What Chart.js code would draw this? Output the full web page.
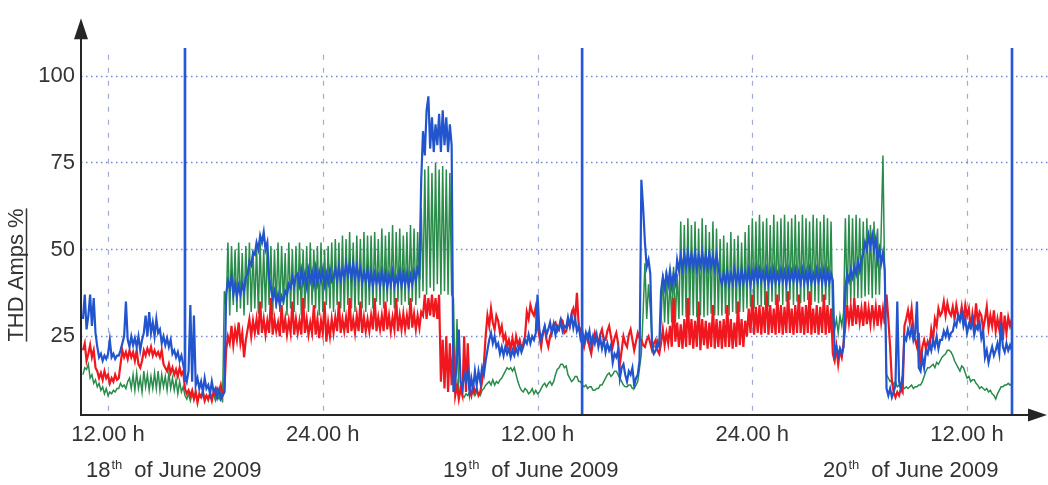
<!DOCTYPE html>
<html>
<head>
<meta charset="utf-8">
<title>THD Amps %</title>
<script src="https://cdn.jsdelivr.net/npm/chart.js@4.4.1/dist/chart.umd.min.js"></script>
<style>
  html, body { margin: 0; padding: 0; background: #fff; }
  #wrap { width: 1048px; height: 485px; }
</style>
</head>
<body>
<div id="wrap"><canvas id="thd-chart" width="1048" height="485"></canvas></div>
<script>
// one reading every 0.1 h, first one at 10.6 h on the 18th
var t0 = 10.6;
var dt = 0.1;

var blue = [
  30, 37, 27, 31, 37, 28, 36, 26, 22, 19, 20, 18, 19.5, 18.5, 20, 24, 19, 20, 18.5, 19.5,
  19.5, 21, 23, 25, 35, 24, 22, 25, 22.5, 24.5, 22, 25, 21, 24, 26, 31, 25, 32, 26, 29,
  25, 30, 26, 27, 23, 25, 22.5, 24.5, 22, 24, 20, 21, 19, 20.5, 18, 19.5, 17, 14, 12, 15,
  34, 12, 31, 11, 13, 10, 12, 9, 13, 10, 11, 8.5, 12, 9, 10, 7.5, 9.5, 7, 8, 9,
  37, 41, 39, 42, 37, 40, 36.5, 39.5, 37, 40, 38, 42, 43, 46.5, 45.5, 49, 48.5, 52, 50, 54,
  52, 55, 50, 52, 42, 39, 36, 38, 34.5, 37, 34, 36.5, 35, 38, 37, 40, 39, 42, 39.5, 42.5,
  43, 40, 44, 40.5, 43, 39.5, 44, 41, 43.5, 40, 44.5, 40.5, 43.5, 41, 44, 40, 43, 40.5, 44, 41,
  42, 44.5, 41, 45, 41.5, 44, 42, 46, 42.5, 45.5, 42, 46, 41.5, 45, 42, 44.5, 40.5, 43.5, 41, 44,
  40, 43.5, 39.5, 43, 40.5, 42.5, 39.5, 43.5, 40, 43, 39, 42.5, 40, 43.5, 39.5, 42, 40, 43.5, 39.5, 43,
  40, 43, 39.5, 42.5, 40, 43.5, 41, 44.5, 43, 70, 84, 77, 90, 94, 79, 88, 78, 86, 80, 89,
  78, 90, 80, 88, 78, 86, 80, 9, 12, 18, 27, 12, 10, 14, 12, 15, 9, 13, 10, 15,
  11, 15, 12, 16, 14, 18, 21, 24, 26, 23, 25, 22, 23, 20, 22, 19.5, 22, 20, 21.5, 19,
  21, 19.5, 21.5, 20, 22.5, 20.5, 22, 24, 23, 25.5, 23, 25, 24, 26, 37, 27, 24, 26, 28, 25.5,
  27, 29, 26, 28.5, 25.5, 28, 27, 29.5, 26.5, 28, 27.5, 30.5, 28, 31, 27.5, 30, 26.5, 28, 24.5, 26.5,
  23.5, 26, 24, 26.5, 22.5, 25, 23, 25.5, 22, 24.5, 21.5, 24, 20.5, 23, 21, 22.5, 17.5, 20, 19, 21,
  13, 16, 17, 14, 12, 15, 14, 16, 11, 13, 14, 18, 70, 62, 52, 45, 47, 43, 22, 20,
  21, 23, 22, 38, 42, 39, 43, 40, 44, 39.5, 43, 40.5, 47, 44, 48, 44.5, 48.5, 45, 49, 45,
  48.5, 45, 49, 44.5, 48, 45.5, 49, 44.5, 48.5, 45, 49, 45, 48, 44.5, 48.5, 45, 42, 40, 43, 40.5,
  43.5, 40, 43, 40.5, 44, 40.5, 43.5, 40, 44, 40.5, 43.5, 40.5, 44, 40, 43.5, 41, 44.5, 40.5, 44, 41,
  43.5, 40.5, 44, 40.5, 43.5, 40, 44, 40.5, 43, 40.5, 44, 41, 43.5, 40, 44, 40.5, 43.5, 41, 44, 40.5,
  43.5, 40.5, 44, 40.5, 43.5, 40, 44, 40.5, 43, 40.5, 44, 41, 43.5, 40.5, 44, 40, 43.5, 40.5, 43, 41,
  20, 22, 19.5, 21.5, 20, 22, 39, 43, 41, 44, 42, 45, 43, 46.5, 44, 47, 49, 52, 50, 54,
  51, 54, 50, 53, 47, 50, 46, 49, 44, 10, 8, 10, 7.5, 9, 11, 35, 12, 10, 14, 25,
  24, 27, 25, 27.5, 24, 26, 35, 16, 15, 19, 16, 21, 20, 23, 21, 24, 22, 25, 21.5, 24,
  24, 26.5, 25, 27, 24.5, 26, 26.5, 29, 28, 31, 29.5, 32, 28, 30, 26, 28.5, 27.5, 30, 25.5, 28,
  27, 29, 24.5, 26.5, 19, 21, 17.5, 20, 22, 19.5, 21, 23, 20, 29, 22, 20.5, 23, 21, 22.5, 21
];

var red = [
  21, 23, 18, 20, 22.5, 19, 21, 16, 15, 13, 14.5, 12.5, 15, 13, 14, 11.5, 13, 12, 14, 12.5,
  13, 17, 21, 19, 20.5, 18.5, 21, 19, 20.5, 18, 21, 17, 16, 18, 21, 19.5, 21.5, 20, 22, 19.5,
  21, 19.5, 20.5, 19, 21, 17, 16, 15, 17, 14.5, 16, 14, 15.5, 13.5, 16, 14, 15, 10, 8.5, 9.5,
  8, 9.5, 7, 9, 6, 8.5, 7.5, 9, 6.5, 8, 7, 8.5, 6.5, 9, 8, 10, 9, 11, 8, 9,
  21, 25, 23, 28, 22.5, 27, 24, 29, 23, 26, 19, 24, 27, 30, 25, 29.5, 26, 30, 25.5, 35,
  26, 30, 25.5, 29.5, 26, 36, 25.5, 30, 26.5, 29, 25, 34, 26, 30, 25.5, 29.5, 26, 35, 25.5, 30,
  26, 29.5, 25.5, 36, 26, 30, 25.5, 29, 26, 34, 25.5, 30, 24.5, 29.5, 26, 35, 23.5, 29, 25, 30,
  26, 30.5, 26.5, 35, 26, 30, 26.5, 30.5, 26, 36, 26.5, 30, 26, 31, 26.5, 35, 26, 30.5, 26.5, 30,
  26.5, 31, 27, 36, 26.5, 30.5, 27, 31, 26.5, 35, 27, 31, 26.5, 30.5, 27, 36, 26.5, 31, 27, 31.5,
  27, 31, 27, 36, 27.5, 31.5, 27, 31, 27.5, 32, 31, 37, 30, 36, 31, 37, 30.5, 36, 30, 37,
  12, 24, 10, 25, 9, 23, 11, 22, 8, 11, 7, 10, 8, 25, 9, 23, 10, 8, 11, 9,
  10, 8, 9, 12, 17, 25, 31, 28, 33, 29, 27, 31, 29.5, 26, 28, 24, 25.5, 22, 24, 21.5,
  24.5, 21, 25, 22.5, 24, 21.5, 23, 25, 32, 30, 34, 32, 31, 33.5, 28, 25, 22, 26, 27.5, 24,
  22, 25, 26.5, 28.5, 29, 26.5, 27.5, 30, 29.5, 26, 26.5, 29, 28, 31.5, 33, 30, 37.5, 28, 27, 24.5,
  22, 24.5, 25.5, 22, 20, 23.5, 26, 24, 23, 25.5, 27, 24, 24, 26.5, 28, 25, 22, 24.5, 26, 23,
  17, 21, 25, 23, 22, 25.5, 27, 24, 21, 23.5, 26, 24.5, 24, 22.5, 22, 24, 25, 23, 21, 23,
  24, 21, 20, 23, 27, 22.5, 26, 23, 28, 22, 36, 23.5, 29, 22, 28.5, 21.5, 30, 22, 36, 22.5,
  30, 21.5, 29.5, 22, 35, 21, 30, 22.5, 29.5, 21.5, 29, 22, 34, 21.5, 30, 22, 29.5, 21.5, 30, 22,
  34, 22, 30, 21.5, 29, 22, 35, 22.5, 30, 22, 29.5, 25, 33, 26, 37, 25.5, 33.5, 26, 34, 25.5,
  33.5, 26, 38, 25.5, 34, 26, 33, 25.5, 37, 26, 34, 25.5, 33.5, 26, 38, 26, 33, 25.5, 34, 26,
  37, 26, 33.5, 25.5, 34, 26, 38, 25.5, 33, 26, 34, 25.5, 33.5, 26, 37, 25.5, 34, 26, 33, 20,
  18, 22, 17, 21, 19, 23, 28, 34, 29, 33.5, 28, 36, 28.5, 34, 29, 33, 28, 35, 28.5, 33,
  28.5, 34, 29, 33.5, 28, 34, 29, 33, 28.5, 37, 30, 22, 12, 9, 7.5, 9, 8, 10, 9, 28,
  30, 32.5, 29, 33, 27, 24, 22, 26, 16, 22, 24, 21.5, 23.5, 22, 27, 24, 30, 28, 33, 31,
  32, 35, 31, 34.5, 32, 31, 33.5, 30, 34, 31, 30, 33.5, 29.5, 34, 31, 33, 27, 31.5, 28, 34.5,
  29, 32, 31, 27, 30, 33.5, 27.5, 31, 28, 32.5, 26.5, 30, 27, 32, 24, 31, 26, 30.5, 28, 30
];

var green = [
  14, 16, 15.5, 17, 13, 14, 11.5, 12.5, 10.5, 11.5, 9.5, 10.5, 8.5, 10, 8, 9, 8.5, 9.5, 9, 10,
  10, 11.5, 10.5, 11, 10, 12, 13, 10, 14, 9.5, 14.5, 10, 13, 9, 15, 10.5, 14, 9.5, 13.5, 10,
  14.5, 10, 15, 9.5, 14, 10.5, 13.5, 9.5, 14.5, 10, 13, 9.5, 12.5, 8.5, 12, 9, 10.5, 8, 7, 8.5,
  6.5, 8.5, 7, 9, 6.5, 8, 7.5, 9.5, 7, 8, 6.5, 9, 7.5, 8.5, 6.5, 8, 7, 9, 6, 38,
  33, 52, 31, 51, 34, 50, 32, 52, 33, 49, 31, 51, 34, 52, 32, 50, 33, 51, 31.5, 52,
  33, 50, 32, 52, 34, 51, 31, 50, 33, 52, 32, 51, 34, 49, 31, 52, 33, 50, 32, 51,
  34, 52, 31, 50, 33, 51, 32, 52, 34, 50, 33, 51, 31, 52, 32, 50, 34, 51, 33, 52,
  32, 53, 34, 52, 33, 54, 32, 53, 34, 55, 33, 52, 32, 54, 34, 53, 33, 55, 32, 54,
  34, 54, 33, 55, 35, 53, 34, 56, 33, 54, 35, 55, 34, 57, 33, 55, 35, 56, 34, 54,
  35, 55, 34, 57, 35, 56, 34, 55, 36, 62, 38, 73, 37, 74, 39, 72, 38, 75, 40, 73,
  37, 74, 38, 73, 37, 72, 37, 36, 9, 30, 8, 9, 8, 7.5, 8.5, 8, 9, 8, 9.5, 8,
  9, 8.5, 8, 9.5, 10, 11, 11.5, 12, 11, 12.5, 11, 12, 11.5, 12.5, 13, 14, 15, 16, 15.5, 16,
  15, 16, 14, 12, 10.5, 9.5, 9, 10, 9.5, 8.5, 9, 10, 8.5, 9.5, 8.5, 9, 10, 11, 11.5, 10.5,
  11.5, 12, 11, 12, 14, 15.5, 16, 17, 17, 16, 16.5, 14, 13, 12, 12.5, 13.5, 13.5, 12, 12, 11,
  10.5, 11, 10, 10.5, 10.5, 9.5, 9.5, 10, 10, 11, 11, 12, 13, 14, 14.5, 13.5, 14, 15, 15, 14,
  13, 12, 11, 10.5, 10.5, 11, 11, 10, 10, 11, 12, 16, 20, 32, 46, 30, 40, 33, 24, 22,
  22, 24, 23, 29, 43, 29, 44, 28.5, 42, 29, 45, 29, 43, 30, 58, 31, 57, 30.5, 59, 31,
  57, 31, 58, 30.5, 56, 31, 59, 30.5, 57, 31, 55, 31.5, 58, 31, 56, 31, 53, 31, 54, 31.5,
  52, 31, 55, 32, 53, 31.5, 54, 32, 52, 32, 55, 33, 57, 33.5, 59, 33, 58, 34, 60, 33.5,
  58, 34, 59, 33.5, 57, 35, 60, 34, 58, 35, 59, 34, 60, 35, 58, 35.5, 59, 34, 60, 35,
  58, 34.5, 60, 35, 59, 35.5, 58, 34, 60, 35, 59, 34.5, 58, 35, 60, 35.5, 59, 34, 58, 28,
  27, 30, 26, 31, 28, 32, 59, 34, 60, 35, 59, 35.5, 60, 36, 59, 36, 58, 36.5, 59, 37,
  57, 36, 58, 37, 56, 37, 55, 77, 40, 14, 13, 12, 12.5, 11, 12, 10.5, 11, 10, 10.5, 10,
  10.5, 10, 10.5, 11, 10, 10.5, 10.5, 11, 11, 12, 13.5, 15, 16, 16, 16.5, 17, 16, 17.5, 17, 18,
  19, 19.5, 20, 21, 21, 20.5, 19.5, 18, 17, 16, 15, 16.5, 16, 14.5, 13, 13.5, 12, 12.5, 12.5, 11.5,
  11, 10, 10.5, 10, 9.5, 10, 9, 9.5, 8.5, 8, 7, 8.5, 9.5, 10.5, 10.5, 11, 11, 11.5, 11, 11.5
];

// full-scale blue marks
var markHours = [16.3, 38.49, 62.51];
var markLow = [12, 2.4, 2.4];
var markHigh = [107.8, 107.8, 107.8];

var tickHours = [12, 24, 36, 48, 60];
var tickLabels = ['12.00 h', '24.00 h', '12.00 h', '24.00 h', '12.00 h'];
var yTicks = [25, 50, 75, 100];

var dayNumbers = ['18', '19', '20'];
var dayHours = [10.77, 30.72, 51.95];

var FONT = 'Liberation Sans, Arial, Helvetica, sans-serif';
var TEXT = '#333333';

function series(values) {
  return values.map(function (v, i) {
    return { x: Math.round((t0 + dt * i) * 10) / 10, y: v };
  });
}

var decor = {
  id: 'decor',
  beforeDatasetsDraw: function (chart) {
    var ctx = chart.ctx, a = chart.chartArea;
    var x = chart.scales.x, y = chart.scales.y;
    ctx.save();
    // dotted horizontal grid
    ctx.strokeStyle = 'rgba(70, 95, 200, 0.75)';
    ctx.lineWidth = 1.3;
    ctx.setLineDash([1.5, 3.5]);
    yTicks.forEach(function (v) {
      var py = Math.round(y.getPixelForValue(v)) + 0.5;
      ctx.beginPath();
      ctx.moveTo(a.left, py);
      ctx.lineTo(chart.width, py);
      ctx.stroke();
    });
    // dashed vertical grid
    ctx.strokeStyle = 'rgba(100, 115, 185, 0.6)';
    ctx.lineWidth = 1.2;
    ctx.setLineDash([5, 8]);
    tickHours.forEach(function (h) {
      var px = Math.round(x.getPixelForValue(h)) + 0.5;
      ctx.beginPath();
      ctx.moveTo(px, y.getPixelForValue(106));
      ctx.lineTo(px, a.bottom);
      ctx.stroke();
    });
    ctx.restore();
  },
  afterDraw: function (chart) {
    var ctx = chart.ctx, a = chart.chartArea;
    var x = chart.scales.x;
    ctx.save();

    // axes with arrowheads
    ctx.strokeStyle = ctx.fillStyle = '#262626';
    ctx.lineWidth = 2;
    ctx.beginPath();
    ctx.moveTo(a.left, a.bottom);
    ctx.lineTo(a.left, a.top + 18);
    ctx.moveTo(a.left - 1, a.bottom);
    ctx.lineTo(a.right - 16, a.bottom);
    ctx.stroke();
    ctx.beginPath();
    ctx.moveTo(a.left, a.top - 1);
    ctx.lineTo(a.left - 7, a.top + 20);
    ctx.lineTo(a.left + 7, a.top + 20);
    ctx.closePath();
    ctx.moveTo(a.right + 1, a.bottom);
    ctx.lineTo(a.right - 18, a.bottom - 6.5);
    ctx.lineTo(a.right - 18, a.bottom + 6.5);
    ctx.closePath();
    ctx.fill();

    // y title, underlined
    ctx.fillStyle = ctx.strokeStyle = TEXT;
    ctx.font = '22px ' + FONT;
    ctx.translate(17, 275);
    ctx.rotate(-Math.PI / 2);
    ctx.textAlign = 'center';
    ctx.textBaseline = 'middle';
    ctx.fillText('THD Amps %', 0, 0);
    var tw = ctx.measureText('THD Amps %').width;
    ctx.lineWidth = 1.5;
    ctx.beginPath();
    ctx.moveTo(-tw / 2, 9.5);
    ctx.lineTo(tw / 2, 9.5);
    ctx.stroke();
    ctx.setTransform(1, 0, 0, 1, 0, 0);

    // day captions under the hour ticks
    ctx.textAlign = 'left';
    ctx.textBaseline = 'alphabetic';
    dayNumbers.forEach(function (d, i) {
      var px = x.getPixelForValue(dayHours[i]);
      ctx.font = '22px ' + FONT;
      ctx.fillText(d, px, 477);
      var w = ctx.measureText(d).width;
      ctx.font = '13px ' + FONT;
      ctx.fillText('th', px + w + 1, 469);
      var wth = ctx.measureText('th').width;
      ctx.font = '22px ' + FONT;
      ctx.fillText('of June 2009', px + w + wth + 13, 477);
    });
    ctx.restore();
  }
};

var ctx = document.getElementById('thd-chart').getContext('2d');

var thdChart = new Chart(ctx, {
  type: 'line',
  data: {
    datasets: [
      {
        type: 'bar',
        label: 'marks',
        data: markHours.map(function (h, i) { return { x: h, y: [markLow[i], markHigh[i]] }; }),
        backgroundColor: '#2557d6',
        barThickness: 2,
        order: 0
      },
      {
        label: 'blue',
        data: series(blue),
        borderColor: 'rgb(34, 84, 206)',
        borderWidth: 2.2,
        order: 1
      },
      {
        label: 'red',
        data: series(red),
        borderColor: 'rgb(240, 24, 30)',
        borderWidth: 2.2,
        order: 2
      },
      {
        label: 'green',
        data: series(green),
        borderColor: 'rgb(42, 140, 74)',
        borderWidth: 1.5,
        order: 3
      }
    ]
  },
  options: {
    responsive: false,
    animation: false,
    events: [],
    layout: { padding: { top: 8, right: 2, left: 0, bottom: 0 } },
    elements: {
      point: { radius: 0 },
      line: { tension: 0 }
    },
    plugins: {
      legend: { display: false },
      tooltip: { enabled: false }
    },
    scales: {
      x: {
        type: 'linear',
        min: 10.49,
        max: 64.41,
        offset: false,
        afterBuildTicks: function (s) {
          s.ticks = tickHours.map(function (v) { return { value: v }; });
        },
        afterFit: function (s) { s.height = 70; },
        grid: { display: false, drawTicks: false },
        border: { display: false },
        ticks: {
          maxRotation: 0,
          autoSkip: false,
          padding: 7,
          color: TEXT,
          font: { family: FONT, size: 22 },
          callback: function (v) {
            var k = tickHours.indexOf(v);
            return k < 0 ? '' : tickLabels[k];
          }
        }
      },
      y: {
        min: 2.4,
        max: 116.2,
        afterBuildTicks: function (s) {
          s.ticks = yTicks.map(function (v) { return { value: v }; });
        },
        afterFit: function (s) { s.width = 81; },
        grid: { display: false, drawTicks: false },
        border: { display: false },
        ticks: {
          padding: 6,
          color: TEXT,
          font: { family: FONT, size: 22 }
        }
      }
    }
  },
  plugins: [decor]
});
</script>
</body>
</html>
